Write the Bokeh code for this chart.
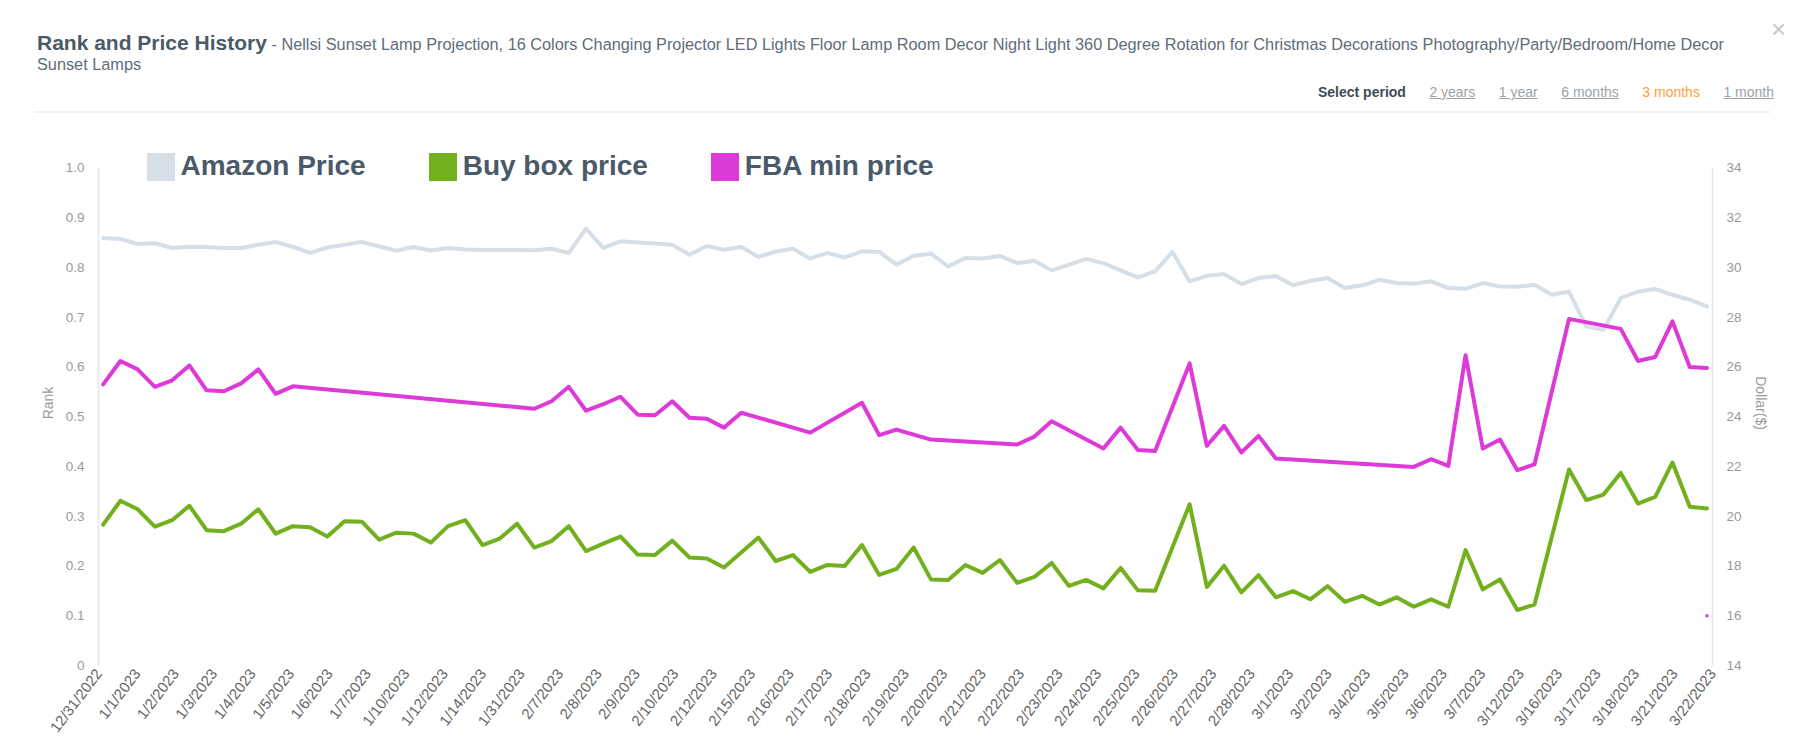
import math
from bokeh.plotting import figure
from bokeh.models import (Range1d, LinearAxis, FixedTicker, CustomJSTickFormatter,
                          Legend, LegendItem, ColumnDataSource, Div)
from bokeh.layouts import column
from bokeh.embed import file_html
from bokeh.resources import INLINE

FONT = "Liberation Sans"
NAN = float("nan")

# ---------------- data ----------------
dates = ["12/31/2022", "1/1/2023", "1/2/2023", "1/3/2023", "1/4/2023", "1/5/2023",
         "1/6/2023", "1/7/2023", "1/10/2023", "1/12/2023", "1/14/2023", "1/31/2023",
         "2/7/2023", "2/8/2023", "2/9/2023", "2/10/2023", "2/12/2023", "2/15/2023",
         "2/16/2023", "2/17/2023", "2/18/2023", "2/19/2023", "2/20/2023", "2/21/2023",
         "2/22/2023", "2/23/2023", "2/24/2023", "2/25/2023", "2/26/2023", "2/27/2023",
         "2/28/2023", "3/1/2023", "3/2/2023", "3/4/2023", "3/5/2023", "3/6/2023",
         "3/7/2023", "3/12/2023", "3/16/2023", "3/17/2023", "3/18/2023", "3/21/2023",
         "3/22/2023"]

amazon_price = [
    31.18, 31.14, 30.94, 30.97, 30.78, 30.83, 30.82, 30.78, 30.78, 30.91,
    31.02, 30.83, 30.58, 30.80, 30.91, 31.02, 30.85, 30.67, 30.82, 30.68,
    30.78, 30.72, 30.70, 30.70, 30.70, 30.69, 30.75, 30.58, 31.56, 30.78,
    31.05, 31.00, 30.96, 30.91, 30.51, 30.86, 30.71, 30.82, 30.42, 30.64,
    30.75, 30.36, 30.58, 30.40, 30.64, 30.63, 30.11, 30.47, 30.55, 30.04,
    30.38, 30.36, 30.46, 30.17, 30.27, 29.88, 30.11, 30.34, 30.17, 29.88,
    29.60, 29.84, 30.62, 29.44, 29.66, 29.73, 29.33, 29.57, 29.65, 29.28,
    29.46, 29.57, 29.17, 29.28, 29.50, 29.37, 29.34, 29.44, 29.17, 29.14,
    29.37, 29.23, 29.22, 29.30, 28.90, 29.03, 27.62, 27.49, 28.77, 29.03,
    29.13, 28.90, 28.70, 28.43]

buy_box_price = [
    19.66, 20.62, 20.28, 19.58, 19.84, 20.42, 19.44, 19.40, 19.70, 20.28,
    19.30, 19.60, 19.56, 19.18, 19.80, 19.78, 19.06, 19.34, 19.30, 18.94,
    19.60, 19.84, 18.84, 19.10, 19.70, 18.74, 19.00, 19.60, 18.60, 18.90,
    19.18, 18.46, 18.44, 19.02, 18.34, 18.30, 17.94, 18.54, 19.14, 18.20,
    18.44, 17.76, 18.04, 18.00, 18.84, 17.64, 17.88, 18.74, 17.46, 17.44,
    18.04, 17.72, 18.24, 17.32, 17.56, 18.12, 17.20, 17.44, 17.10, 17.92,
    17.02, 17.00, 18.74, 20.48, 17.16, 18.01, 16.94, 17.63, 16.74, 16.99,
    16.66, 17.19, 16.56, 16.80, 16.45, 16.74, 16.36, 16.66, 16.36, 18.64,
    17.06, 17.46, 16.23, 16.45, 19.16, 21.88, 20.65, 20.87, 21.74, 20.51,
    20.78, 22.16, 20.38, 20.31]

fba_min_price = [
    25.30, 26.24, 25.90, 25.20, 25.46, 26.06, 25.06, 25.02, 25.34, 25.90,
    24.92, 25.22, None, None, None, None, None, None, None, None,
    None, None, None, None, None, 24.32, 24.62, 25.20, 24.24, 24.50,
    24.80, 24.08, 24.06, 24.62, 23.96, 23.92, 23.56, 24.16, None, None,
    None, 23.36, None, None, 24.56, 23.26, 23.48, None, 23.08, None,
    None, None, None, 22.88, 23.20, 23.82, None, None, 22.72, 23.56,
    22.66, 22.62, 24.38, 26.14, 22.83, 23.63, 22.56, 23.23, 22.32, None,
    None, None, None, None, None, None, 21.98, 22.29, 22.02, 26.47,
    22.72, 23.08, 21.85, 22.08, 25.00, 27.93, None, None, 27.53, 26.24,
    26.40, 27.83, 26.00, 25.96]

fba_stray_index = [93]
fba_stray_price = [16.0]

rank_ticks = [0, 0.1, 0.2, 0.3, 0.4, 0.5, 0.6, 0.7, 0.8, 0.9, 1.0]
dollar_ticks = [14, 16, 18, 20, 22, 24, 26, 28, 30, 32, 34]

series_names = ["Amazon Price", "Buy box price", "FBA min price"]
series_colors = ["#d6dfe7", "#72b01d", "#dd3ad8"]

title_main = "Rank and Price History"
title_product_1 = ("Nellsi Sunset Lamp Projection, 16 Colors Changing Projector LED Lights Floor Lamp "
                   "Room Decor Night Light 360 Degree Rotation for Christmas Decorations "
                   "Photography/Party/Bedroom/Home Decor")
title_product_2 = "Sunset Lamps"
periods = ["2 years", "1 year", "6 months", "3 months", "1 month"]
active_period = "3 months"

# ---------------- header ----------------
period_html = '<span style="font-weight:bold;color:#3d4b59;">Select period</span>'
for pr in periods:
    if pr == active_period:
        period_html += f'<span style="margin-left:23.5px;color:#f7a23a;">{pr}</span>'
    else:
        period_html += (f'<span style="margin-left:23.5px;color:#9ea3a8;'
                        f'text-decoration:underline;">{pr}</span>')

header_html = f"""
<div style="position:relative;width:1804px;height:114px;font-family:'{FONT}',Arial,sans-serif;">
  <div style="position:absolute;left:37px;top:31px;line-height:24px;white-space:nowrap;">
    <span style="font-size:21px;font-weight:bold;color:#4b5a69;">{title_main}</span><span style="font-size:16.3px;color:#5f6c79;"> - {title_product_1}</span>
  </div>
  <div style="position:absolute;left:37px;top:54px;line-height:20px;font-size:16.3px;color:#5f6c79;white-space:nowrap;">{title_product_2}</div>
  <div style="position:absolute;right:30px;top:83px;line-height:18px;font-size:14px;white-space:nowrap;">{period_html}</div>
  <div style="position:absolute;left:34px;width:1736px;top:111px;height:2px;background:#edf1f5;"></div>
  <div style="position:absolute;left:1771px;top:16px;line-height:26px;font-size:26px;color:#c8c8c8;">&times;</div>
</div>
"""
header = Div(text=header_html, width=1804, height=114, margin=0)

# ---------------- figure ----------------
n = len(amazon_price)
xs = list(range(n))
rank_top = 1.055                      # a little headroom above 1.0 for the legend
usd_top = dollar_ticks[0] + (dollar_ticks[-1] - dollar_ticks[0]) * rank_top

p = figure(width=1804, height=636, output_backend="svg", toolbar_location=None,
           x_range=Range1d(-0.27, n - 1 + 0.32), y_range=Range1d(0, rank_top),
           x_axis_location=None, y_axis_location="left",
           min_border_left=98, min_border_right=92, min_border_top=26, min_border_bottom=85,
           outline_line_color=None, background_fill_color="white",
           border_fill_color="white", margin=0)
p.grid.visible = False
p.extra_y_ranges = {"usd": Range1d(dollar_ticks[0], usd_top)}
p.extra_x_ranges = {"lbl": Range1d(0, len(dates) - 1)}


def style_y(ax, standoff, title_standoff):
    ax.axis_line_color = "#e6e6e6"
    ax.axis_line_width = 1.5
    ax.major_tick_line_color = None
    ax.minor_tick_line_color = None
    ax.major_tick_out = 0
    ax.major_tick_in = 0
    ax.minor_tick_out = 0
    ax.major_label_text_color = "#9a9a9a"
    ax.major_label_text_font = FONT
    ax.major_label_text_font_size = "13.5px"
    ax.major_label_standoff = standoff
    ax.axis_label_text_color = "#9a9a9a"
    ax.axis_label_text_font = FONT
    ax.axis_label_text_font_size = "14px"
    ax.axis_label_text_font_style = "normal"
    ax.axis_label_standoff = title_standoff


ya = p.yaxis[0]
ya.ticker = FixedTicker(ticks=rank_ticks)
ya.formatter = CustomJSTickFormatter(code="return tick === 0 ? '0' : tick.toFixed(1);")
ya.axis_label = "Rank"
ya.bounds = (rank_ticks[0], rank_ticks[-1])
style_y(ya, 14, 7)

ra = LinearAxis(y_range_name="usd", ticker=FixedTicker(ticks=dollar_ticks), axis_label="Dollar($)")
ra.bounds = (dollar_ticks[0], dollar_ticks[-1])
style_y(ra, 14, 8)
p.add_layout(ra, "right")

xa = LinearAxis(x_range_name="lbl", ticker=FixedTicker(ticks=list(range(len(dates)))),
                major_label_overrides={i: d for i, d in enumerate(dates)},
                major_label_orientation=0.92)
xa.axis_line_color = None
xa.major_tick_line_color = None
xa.minor_tick_line_color = None
xa.major_tick_out = 0
xa.major_tick_in = 0
xa.minor_tick_out = 0
xa.major_label_standoff = 5
xa.major_label_text_font = FONT
xa.major_label_text_font_size = "15px"
xa.major_label_text_color = "#666666"
p.add_layout(xa, "below")

src = ColumnDataSource(dict(x=xs, amazon=amazon_price, buybox=buy_box_price))
fba_x = [i for i, v in enumerate(fba_min_price) if v is not None]
fba_y = [v for v in fba_min_price if v is not None]
fba_src = ColumnDataSource(dict(x=fba_x, y=fba_y))

line_kw = dict(y_range_name="usd", line_width=4, line_join="round", line_cap="round")
p.line("x", "amazon", source=src, line_color=series_colors[0], **line_kw)
p.line("x", "buybox", source=src, line_color=series_colors[1], **line_kw)
p.line("x", "y", source=fba_src, line_color=series_colors[2], **line_kw)
p.scatter(x=fba_stray_index, y=fba_stray_price, y_range_name="usd", marker="square",
          size=3, fill_color=series_colors[2], line_color=None)

# legend swatches (square keys; the glyphs themselves hold no drawable point)
swatches = []
for c in series_colors:
    swatches.append(p.quad(left=[NAN], right=[NAN], top=[NAN], bottom=[NAN],
                           fill_color=c, line_color=None, y_range_name="usd"))

legend = Legend(items=[LegendItem(label=nm, renderers=[r]) for nm, r in zip(series_names, swatches)],
                orientation="horizontal", location=(44.5, 481.5),
                glyph_width=35, glyph_height=35, label_height=35, label_standoff=3, spacing=59,
                padding=0, margin=0, border_line_color=None, background_fill_alpha=0,
                label_text_font=FONT, label_text_font_size="28px", label_text_font_style="bold",
                label_text_color="#4b5a69")
p.add_layout(legend)

layout = column(header, p, spacing=0)
open("out.html", "w").write(file_html(layout, INLINE, title="Rank and Price History"))
